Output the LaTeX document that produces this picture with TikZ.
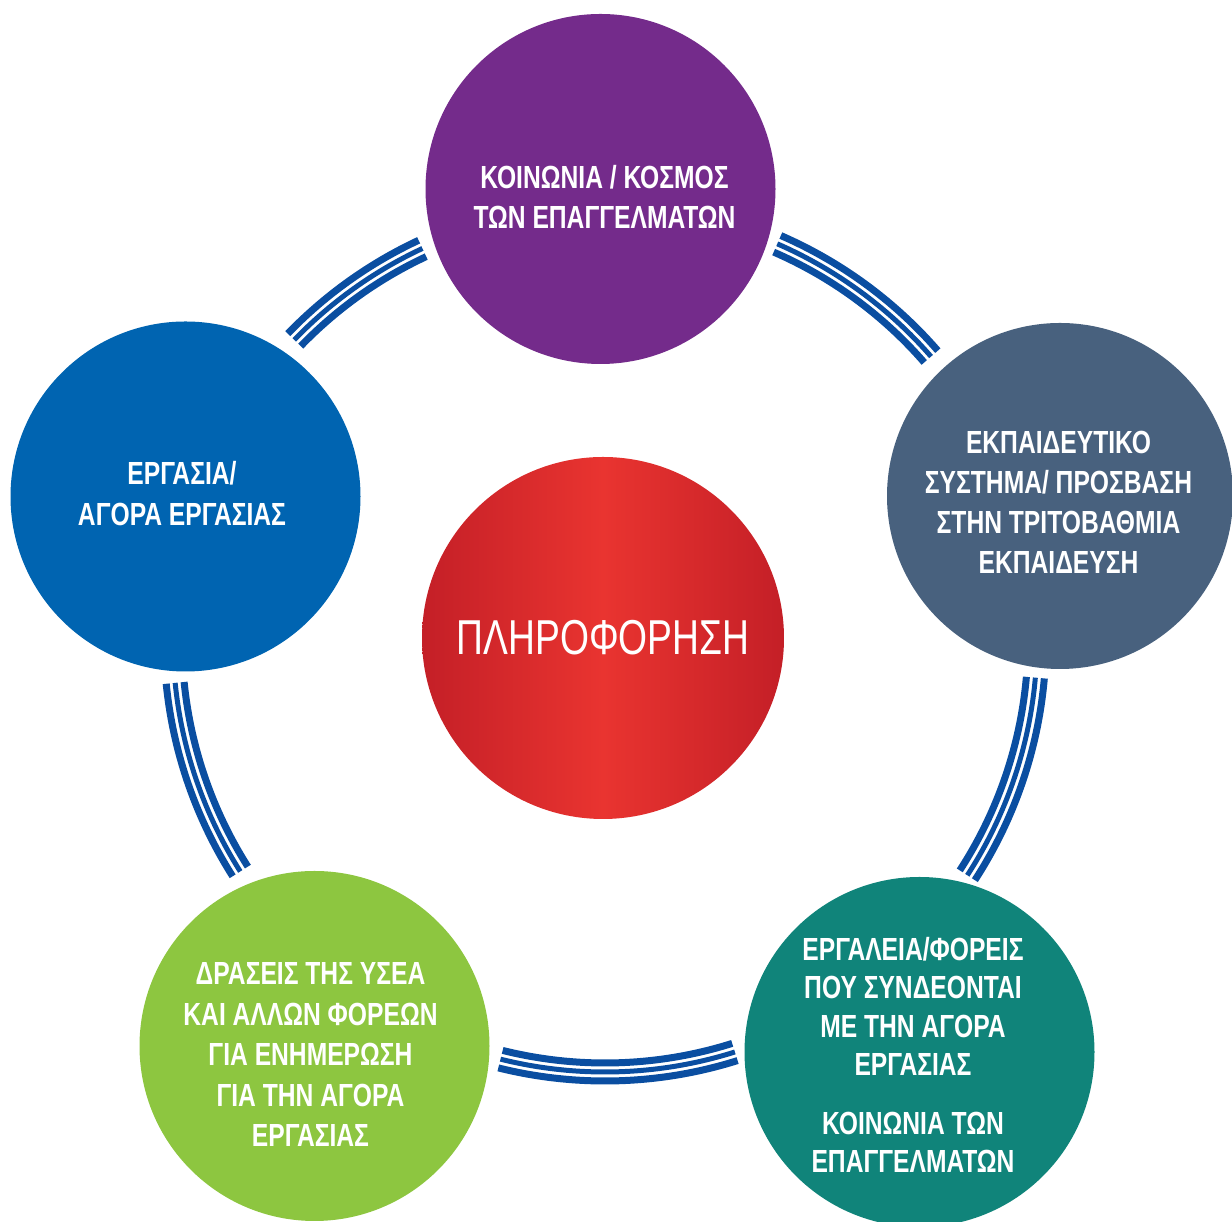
\documentclass[tikz,border=0pt]{standalone}
\usepackage{fontspec}
\setmainfont{Liberation Sans}[FakeStretch=0.77]
\newfontfamily\centerfont{Liberation Sans}[FakeStretch=0.76]
\definecolor{cpurple}{HTML}{742B8B}
\definecolor{cblue}{HTML}{0064B1}
\definecolor{cslate}{HTML}{48617E}
\definecolor{cgreen}{HTML}{8DC640}
\definecolor{cteal}{HTML}{10847A}
\definecolor{cconn}{HTML}{0A4EA1}
\definecolor{credA}{HTML}{C41F27}
\definecolor{credB}{HTML}{E93430}
\newcommand\ringarc[2]{%
  \foreach \rr/\ww in {423/7,432/5,441/7}{%
    \draw[conn, line width=\ww pt] ([shift={(#1:\rr pt)}]O) arc[start angle=#1, end angle=#2, radius=\rr pt];
  }%
}
\begin{document}
\begin{tikzpicture}[x=1pt,y=1pt,
  bubble/.style={circle, draw=none, minimum size=350pt, inner sep=0pt},
  label/.style={text=white, align=center, inner sep=0pt, font=\bfseries\fontsize{32}{40}\selectfont},
  conn/.style={draw=cconn, line cap=butt}]
\useasboundingbox (0,0) rectangle (1232,1222);
\coordinate (O) at (605,582);
% connectors
\ringarc{115}{136}
\ringarc{41}{66.5}
\ringarc{-33}{-5}
\ringarc{-104}{-72.5}
\ringarc{185.7}{212.4}
% circles
\node[bubble, fill=cpurple] (top) at (600.5,1033) {};
\node[bubble, fill=cblue] (left) at (185.5,725.5) {};
\node[bubble, fill=cslate, minimum size=346pt] (right) at (1060,726) {};
\node[bubble, fill=cgreen] (bl) at (314.5,176) {};
\node[bubble, fill=cteal] (br) at (919.5,170) {};
\node[bubble, minimum size=362pt, left color=credA, right color=credA, middle color=credB,
      text=white, font=\centerfont\fontsize{49}{55}\selectfont] (center) at (603,584) {ΠΛΗΡΟΦΟΡΗΣΗ};
% texts
\node[label] (ttop) at (604.5,1025) {ΚΟΙΝΩΝΙΑ / ΚΟΣΜΟΣ\\ΤΩΝ ΕΠΑΓΓΕΛΜΑΤΩΝ};
\node[label, font=\bfseries\fontsize{32}{41}\selectfont] (tleft) at (182,728.5) {ΕΡΓΑΣΙΑ/\\ΑΓΟΡΑ ΕΡΓΑΣΙΑΣ};
\node[label] (tright) at (1058.5,720) {ΕΚΠΑΙΔΕΥΤΙΚΟ\\ΣΥΣΤΗΜΑ/ ΠΡΟΣΒΑΣΗ\\ΣΤΗΝ ΤΡΙΤΟΒΑΘΜΙΑ\\ΕΚΠΑΙΔΕΥΣΗ};
\node[label, font=\bfseries\fontsize{32}{40.5}\selectfont] (tbl) at (310.5,167) {ΔΡΑΣΕΙΣ ΤΗΣ ΥΣΕΑ\\ΚΑΙ ΑΛΛΩΝ ΦΟΡΕΩΝ\\ΓΙΑ ΕΝΗΜΕΡΩΣΗ\\ΓΙΑ ΤΗΝ ΑΓΟΡΑ\\ΕΡΓΑΣΙΑΣ};
\node[label, font=\bfseries\fontsize{32}{38.5}\selectfont] (tbr) at (913,167) {ΕΡΓΑΛΕΙΑ/ΦΟΡΕΙΣ\\ΠΟΥ ΣΥΝΔΕΟΝΤΑΙ\\ΜΕ ΤΗΝ ΑΓΟΡΑ\\ΕΡΓΑΣΙΑΣ\\[20pt]ΚΟΙΝΩΝΙΑ ΤΩΝ\\ΕΠΑΓΓΕΛΜΑΤΩΝ};
\end{tikzpicture}
\end{document}
